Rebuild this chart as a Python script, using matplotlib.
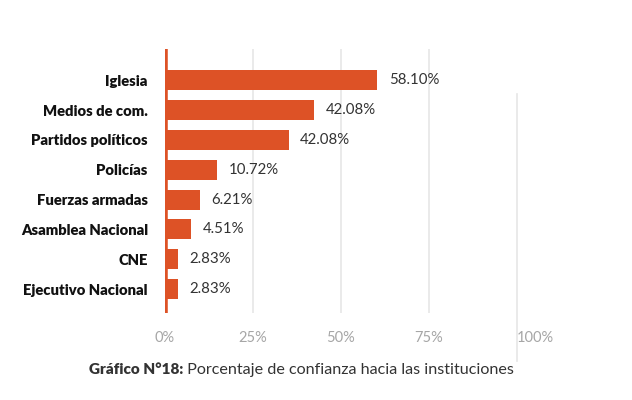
import numpy as np
import matplotlib
matplotlib.use("Agg")
import matplotlib.pyplot as plt

# categories top to bottom, bar lengths, printed labels
categories = ["Iglesia", "Medios de com.", "Partidos políticos", "Policías",
              "Fuerzas armadas", "Asamblea Nacional", "CNE", "Ejecutivo Nacional"]
bar_values = [60.3, 42.4, 35.2, 14.8, 10.1, 7.5, 3.8, 3.8]
value_labels = ["58.10%", "42.08%", "42.08%", "10.72%", "6.21%", "4.51%", "2.83%", "2.83%"]
ticks = [0, 25, 50, 75, 100]
tick_labels = ["0%", "25%", "50%", "75%", "100%"]

bar_color = "#dd5226"
plt.rcParams["font.family"] = ["Lato", "DejaVu Sans"]

fig = plt.figure(figsize=(6.32, 4.0), dpi=100)
ax = fig.add_axes([164.5 / 632, 1 - 313 / 400, (517 - 164.5) / 632, 264 / 400])

y = np.arange(len(categories))
ax.barh(y, bar_values, height=0.67, color=bar_color, zorder=3)

# grid lines
for t in ticks[1:4]:
    ax.axvline(t, color="#e6e6e6", lw=1.2, zorder=1)
ax.axvline(100, ymin=-0.18, ymax=0.83, color="#e6e6e6", lw=1.2, zorder=1, clip_on=False)
ax.axvline(0, color=bar_color, lw=4, zorder=4)

for i, (v, lab) in enumerate(zip(bar_values, value_labels)):
    ax.text(v + 3.3, i, lab, va="center", ha="left", fontsize=10.8, color="#333333")

ax.set_xlim(0, 100)
ax.set_ylim(7.8, -1.05)
ax.set_yticks(y)
ax.set_yticklabels(categories, fontsize=10.6, fontweight="heavy", color="#111111")
ax.set_xticks(ticks)
ax.set_xticklabels(tick_labels, fontsize=10.5, color="#a6a6a6")
ax.get_xticklabels()[-1].set_horizontalalignment("left")
ax.tick_params(axis="y", length=0, pad=12)
ax.tick_params(axis="x", length=0, pad=13)
for s in ax.spines.values():
    s.set_visible(False)

cap1 = fig.text(89 / 632, 1 - 370 / 400, "Gráfico N°18:", fontsize=11, fontweight="heavy",
                color="#333333", va="center", ha="left")
ax.annotate(" Porcentaje de confianza hacia las instituciones", xy=(1, 0.5), xycoords=cap1,
            va="center", ha="left", fontsize=11.6, color="#333333")

fig.savefig("out.png", dpi=100)
